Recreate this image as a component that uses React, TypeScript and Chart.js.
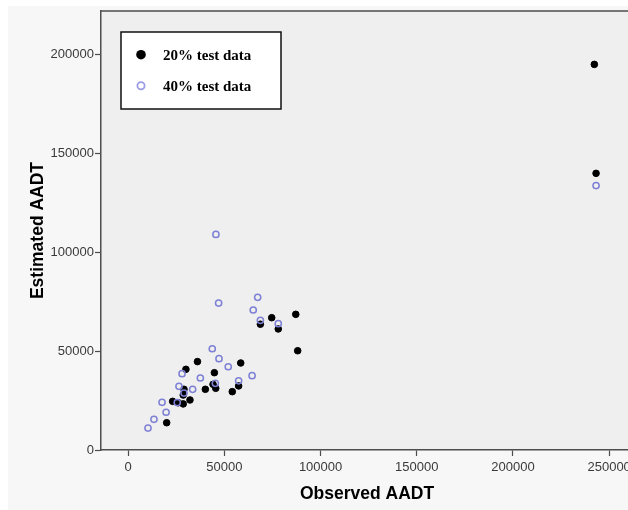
import React, { useEffect, useRef } from "react";
import { Chart, registerables } from "chart.js";

Chart.register(...registerables);

const seriesLabels = ["20% test data", "40% test data"];

const test20X = [36000, 30000, 58500, 44800, 44100, 45500, 40100, 29000, 28600, 23100, 26000, 28600, 32100, 54100, 57400, 20000, 74600, 87100, 68700, 78000, 88100, 242300, 243200];
const test20Y = [44700, 40800, 44000, 39100, 33200, 31200, 30700, 30700, 27800, 24600, 23900, 23300, 25300, 29500, 32400, 13800, 66900, 68600, 63600, 61200, 50200, 195000, 139900];

const test40X = [45600, 47000, 67300, 65000, 68700, 78000, 43700, 47200, 52000, 64400, 57400, 45300, 37500, 28000, 26400, 33500, 17600, 19700, 13400, 10300, 243200, 25500, 29000];
const test40Y = [109000, 74300, 77200, 70800, 65600, 63900, 51200, 46200, 42100, 37600, 35000, 33700, 36400, 38600, 32200, 30700, 24100, 19100, 15500, 11100, 133700, 24000, 28800];

const xTicks = [0, 50000, 100000, 150000, 200000, 250000];
const yTicks = [0, 50000, 100000, 150000, 200000];

const xTitle = "Observed AADT";
const yTitle = "Estimated AADT";

const X_MIN = -14140;
const X_MAX = 262400;
const Y_MIN = 0;
const Y_MAX = 222000;

const toPoints = (xs: number[], ys: number[]) => xs.map((x, i) => ({ x, y: ys[i] }));

const bgPlugin = {
  id: "bgPlugin",
  beforeDraw(chart: any) {
    const { ctx, chartArea, width, height } = chart;
    ctx.save();
    ctx.fillStyle = "#f7f7f7";
    ctx.fillRect(0, 0, width, height);
    ctx.fillStyle = "#efefef";
    ctx.fillRect(chartArea.left, chartArea.top, chartArea.right - chartArea.left, chartArea.bottom - chartArea.top);
    ctx.restore();
  },
  afterDraw(chart: any) {
    const { ctx, chartArea } = chart;
    ctx.save();
    ctx.strokeStyle = "#4d4d4d";
    ctx.lineWidth = 1.5;
    ctx.beginPath();
    ctx.moveTo(chartArea.left, chartArea.top);
    ctx.lineTo(chartArea.right, chartArea.top);
    ctx.stroke();

    // legend box
    const bx = 113, by = 26, bw = 160, bh = 77;
    ctx.fillStyle = "#ffffff";
    ctx.fillRect(bx, by, bw, bh);
    ctx.strokeStyle = "#111111";
    ctx.lineWidth = 1.5;
    ctx.strokeRect(bx, by, bw, bh);

    const rows = [48.7, 79.7];
    ctx.font = "bold 15px 'Liberation Serif', 'Times New Roman', serif";
    ctx.textBaseline = "middle";
    ctx.textAlign = "left";
    chart.data.datasets.forEach((ds: any, i: number) => {
      const cy = rows[i];
      ctx.beginPath();
      if (i === 0) {
        ctx.fillStyle = "#000000";
        ctx.arc(133, cy, 4.8, 0, Math.PI * 2);
        ctx.fill();
      } else {
        ctx.strokeStyle = "#9b9be6";
        ctx.lineWidth = 1.8;
        ctx.arc(133, cy, 3.6, 0, Math.PI * 2);
        ctx.stroke();
      }
      ctx.fillStyle = "#000000";
      ctx.fillText(ds.label, 155, cy + 1);
    });
    ctx.restore();
  },
};

export default function App() {
  const ref = useRef<HTMLCanvasElement | null>(null);

  useEffect(() => {
    if (!ref.current) return;
    const tickFont = { family: "'Liberation Sans', Arial, sans-serif", size: 13 };
    const titleFont = { family: "'Liberation Sans', Arial, sans-serif", size: 17.5, weight: "bold" as const };
    const chart = new Chart(ref.current, {
      type: "scatter",
      data: {
        datasets: [
          {
            label: seriesLabels[0],
            data: toPoints(test20X, test20Y),
            backgroundColor: "#000000",
            borderColor: "#000000",
            pointRadius: 3.3,
            pointBorderWidth: 1,
            order: 1,
          },
          {
            label: seriesLabels[1],
            data: toPoints(test40X, test40Y),
            backgroundColor: "rgba(0,0,0,0)",
            borderColor: "#7d80d4",
            pointRadius: 3.1,
            pointBorderWidth: 1.5,
            order: 0,
          },
        ],
      },
      plugins: [bgPlugin],
      options: {
        animation: false,
        responsive: false,
        maintainAspectRatio: false,
        layout: { autoPadding: false, padding: { top: 5, left: 0, right: 0, bottom: 0 } },
        plugins: {
          legend: { display: false },
          tooltip: { enabled: false },
        },
        scales: {
          x: {
            type: "linear",
            min: X_MIN,
            max: X_MAX,
            afterBuildTicks: (scale: any) => {
              scale.ticks = xTicks.map((v) => ({ value: v }));
            },
            afterFit: (scale: any) => {
              scale.height = 60;
              scale.paddingLeft = 0;
              scale.paddingRight = 0;
            },
            ticks: {
              callback: (v: any) => String(v),
              font: tickFont,
              color: "#3a3a3a",
              padding: 4,
              maxRotation: 0,
              autoSkip: false,
            },
            grid: { display: true, drawOnChartArea: false, drawTicks: true, tickLength: 6, tickColor: "#4d4d4d", tickWidth: 1.2 },
            border: { display: true, color: "#4d4d4d", width: 1.5 },
            title: { display: true, text: xTitle, font: titleFont, color: "#000000", padding: { top: 0, bottom: 5 } },
          },
          y: {
            type: "linear",
            min: Y_MIN,
            max: Y_MAX,
            afterBuildTicks: (scale: any) => {
              scale.ticks = yTicks.map((v) => ({ value: v }));
            },
            afterFit: (scale: any) => {
              scale.width = 93;
              scale.paddingTop = 0;
              scale.paddingBottom = 0;
            },
            ticks: {
              callback: (v: any) => String(v),
              font: tickFont,
              color: "#3a3a3a",
              padding: 1,
              autoSkip: false,
            },
            grid: { display: true, drawOnChartArea: false, drawTicks: true, tickLength: 6, tickColor: "#4d4d4d", tickWidth: 1.2 },
            border: { display: true, color: "#4d4d4d", width: 1.5 },
            title: { display: true, text: yTitle, font: titleFont, color: "#000000", padding: { top: 20, bottom: 0 } },
          },
        },
      },
    });
    return () => chart.destroy();
  }, []);

  return (
    <div style={{ position: "fixed", left: 8, top: 6, width: 620, height: 504, overflow: "hidden" }}>
      <div style={{ width: 625, height: 504 }}>
        <canvas ref={ref} width={625} height={504} style={{ display: "block", width: 625, height: 504 }} />
      </div>
    </div>
  );
}
